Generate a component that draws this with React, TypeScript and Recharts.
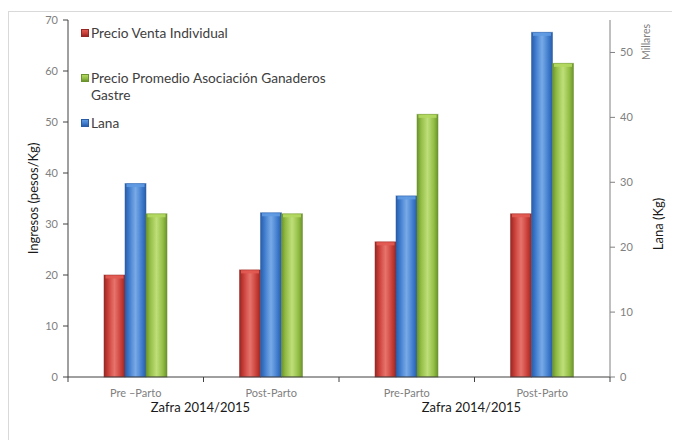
import React from 'react';
import { BarChart, Bar, XAxis, YAxis, Legend, Label } from 'recharts';

const categories = ['Pre –Parto', 'Post-Parto', 'Pre-Parto', 'Post-Parto'];
const groupLabels = ['Zafra 2014/2015', '', 'Zafra 2014/2015', ''];
const precioVenta = [20, 21, 26.5, 32];
const precioPromedio = [32, 32, 51.5, 61.5];
const lanaMillares = [29.8, 25.3, 27.9, 53.1];

const leftTicks = [0, 10, 20, 30, 40, 50, 60, 70];
const rightTicks = [0, 10, 20, 30, 40, 50];

const seriesNames = {
  venta: 'Precio Venta Individual',
  promedio: 'Precio Promedio Asociación Ganaderos Gastre',
  lana: 'Lana',
};
const legendOrder = ['venta', 'promedio', 'lana'];

const data = categories.map((name, i) => ({
  name,
  group: groupLabels[i],
  venta: precioVenta[i],
  promedio: precioPromedio[i],
  lana: lanaMillares[i],
}));

const tones: Record<string, { light: string; base: string; dark: string }> = {
  venta: { light: '#e25a52', base: '#c63c35', dark: '#952824' },
  lana: { light: '#5f9ae2', base: '#3c79cb', dark: '#2a5ca6' },
  promedio: { light: '#b3d861', base: '#8fbb42', dark: '#6b922e' },
};

const FONT = 'Lato, "Liberation Sans", sans-serif';
const HALF_BAND = 67.75;

const BevelBar = (props: any) => {
  const { x, y, width, height, dataKey } = props;
  if (!height || height <= 0) return null;
  const t = tones[dataKey];
  return (
    <g>
      <rect x={x} y={y} width={width} height={height} fill={`url(#grad-${dataKey})`} />
      <rect x={x + 1.5} y={y} width={width - 3} height={3.5} fill={t.light} opacity={0.9} />
      <rect x={x} y={y} width={width} height={height} fill="none" stroke={t.dark} strokeOpacity={0.5} />
    </g>
  );
};

const CategoryTick = (props: any) => {
  const { x, y, payload, index } = props;
  const group = groupLabels[index];
  return (
    <g>
      <line x1={x - HALF_BAND} x2={x - HALF_BAND} y1={y} y2={y + 5} stroke="#404040" />
      {index === categories.length - 1 && (
        <line x1={x + HALF_BAND} x2={x + HALF_BAND} y1={y} y2={y + 5} stroke="#404040" />
      )}
      <text x={x} y={y + 20} textAnchor="middle" fill="#808080" fontSize={11} fontFamily={FONT}>
        {payload.value}
      </text>
      {group && (
        <text x={x + HALF_BAND - 3} y={y + 35} textAnchor="middle" fill="#1a1a1a" fontSize={13} fontFamily={FONT}>
          {group}
        </text>
      )}
    </g>
  );
};

const LegendBox = (props: any) => {
  const payload = props.payload || [];
  const items = legendOrder
    .map((k) => payload.find((p: any) => p.dataKey === k))
    .filter(Boolean);
  return (
    <div style={{ width: 250, fontFamily: FONT, fontSize: 13.7, color: '#404040', lineHeight: '17px' }}>
      {items.map((p: any, i: number) => {
        const t = tones[p.dataKey];
        return (
          <div key={p.dataKey} style={{ display: 'flex', alignItems: 'flex-start', marginBottom: i === 0 ? 28 : 11 }}>
            <span
              style={{
                display: 'inline-block',
                width: 6,
                height: 6,
                marginTop: 5.5,
                marginRight: 2,
                flexShrink: 0,
                background: `linear-gradient(${t.light}, ${t.base} 60%, ${t.dark})`,
                border: `0.5px solid ${t.dark}`,
              }}
            />
            <span>{seriesNames[p.dataKey as keyof typeof seriesNames]}</span>
          </div>
        );
      })}
    </div>
  );
};

const App = () => {
  return (
    <div
      style={{
        marginTop: 3,
        width: 671,
        height: 440,
        borderTop: '1px solid #d9d9d9',
        borderLeft: '1px solid #d9d9d9',
      }}
    >
      <BarChart
        width={670}
        height={428}
        data={data}
        margin={{ top: 8, right: 0, left: 0, bottom: 23 }}
        barSize={21}
        barGap={0}
      >
        <defs>
          {Object.keys(tones).map((k) => (
            <linearGradient key={k} id={`grad-${k}`} x1="0" y1="0" x2="1" y2="0">
              <stop offset="0%" stopColor={tones[k].dark} />
              <stop offset="18%" stopColor={tones[k].base} />
              <stop offset="50%" stopColor={tones[k].light} stopOpacity={0.85} />
              <stop offset="82%" stopColor={tones[k].base} />
              <stop offset="100%" stopColor={tones[k].dark} />
            </linearGradient>
          ))}
        </defs>
        <XAxis
          dataKey="name"
          height={40}
          interval={0}
          tickLine={false}
          tickSize={0}
          tickMargin={0}
          axisLine={{ stroke: '#404040' }}
          tick={<CategoryTick />}
        />
        <YAxis
          yAxisId="left"
          width={59}
          domain={[0, 70]}
          ticks={leftTicks}
          tickSize={5}
          tickMargin={5}
          axisLine={{ stroke: '#404040' }}
          tickLine={{ stroke: '#404040' }}
          tick={{ fill: '#808080', fontSize: 11, fontFamily: FONT }}
        >
          <Label
            content={(p: any) => {
              const vb = p.viewBox;
              const cx = vb.x + 24;
              const cy = vb.y + vb.height / 2;
              return (
                <text x={cx} y={cy} transform={`rotate(-90 ${cx} ${cy})`} textAnchor="middle" dominantBaseline="central" fill="#1a1a1a" fontSize={13} fontFamily={FONT}>
                  Ingresos (pesos/Kg)
                </text>
              );
            }}
          />
        </YAxis>
        <YAxis
          yAxisId="right"
          orientation="right"
          width={69}
          domain={[0, 55]}
          ticks={rightTicks}
          tickSize={5}
          tickMargin={5}
          axisLine={{ stroke: '#808080' }}
          tickLine={{ stroke: '#808080' }}
          tick={{ fill: '#808080', fontSize: 11, fontFamily: FONT }}
        >
          <Label
            content={(p: any) => {
              const vb = p.viewBox;
              const cx = vb.x + 48;
              const cy = vb.y + 204;
              return (
                <text x={cx} y={cy} transform={`rotate(-90 ${cx} ${cy})`} textAnchor="middle" dominantBaseline="central" fill="#1a1a1a" fontSize={13} fontFamily={FONT}>
                  Lana (Kg)
                </text>
              );
            }}
          />
          <Label
            content={(p: any) => {
              const vb = p.viewBox;
              const cx = vb.x + 36;
              const cy = vb.y + 22;
              return (
                <text x={cx} y={cy} transform={`rotate(-90 ${cx} ${cy})`} textAnchor="middle" dominantBaseline="central" fill="#808080" fontSize={10.5} fontFamily={FONT}>
                  Millares
                </text>
              );
            }}
          />
        </YAxis>
        <Legend
          layout="vertical"
          align="left"
          verticalAlign="top"
          wrapperStyle={{ top: 11.5, left: 72, width: 0, height: 0, overflow: 'visible' }}
          content={<LegendBox />}
        />
        <Bar yAxisId="left" dataKey="venta" name={seriesNames.venta} fill={tones.venta.base} shape={<BevelBar />} isAnimationActive={false} />
        <Bar yAxisId="right" dataKey="lana" name={seriesNames.lana} fill={tones.lana.base} shape={<BevelBar />} isAnimationActive={false} />
        <Bar yAxisId="left" dataKey="promedio" name={seriesNames.promedio} fill={tones.promedio.base} shape={<BevelBar />} isAnimationActive={false} />
      </BarChart>
    </div>
  );
};

export default App;
